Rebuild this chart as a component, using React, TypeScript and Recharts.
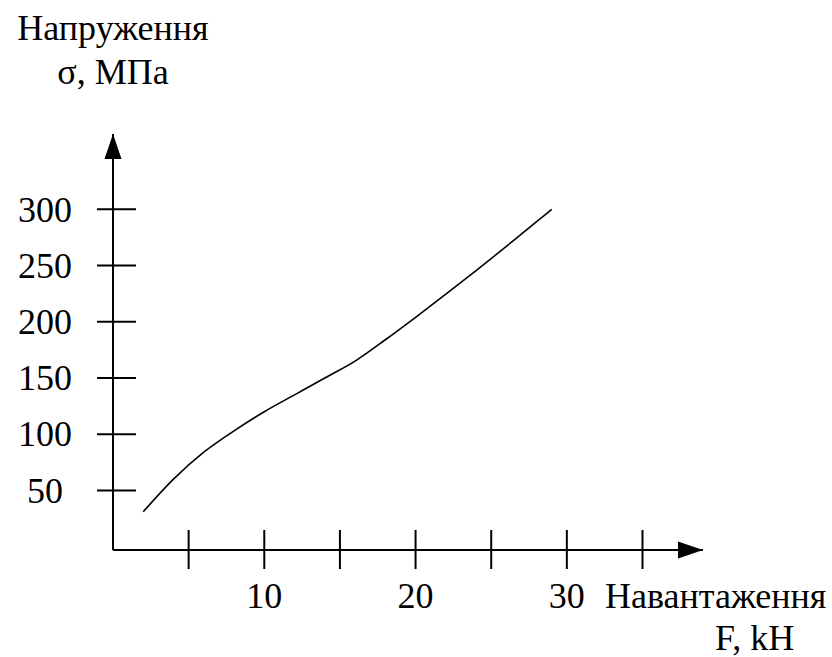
import React from 'react';
import {
  LineChart,
  Line,
  XAxis,
  YAxis,
  ReferenceDot,
  Label,
} from 'recharts';

// Load F (kN) vs stress σ (MPa)
const loadValues = [2, 4, 6, 8, 10, 12, 14, 16, 18, 20, 22, 24, 26, 28, 29];
const stressValues = [31, 60, 84, 103, 120, 135, 150, 165, 184, 204, 224.5, 245.5, 267, 289, 300];

const xTicks = [5, 10, 15, 20, 25, 30, 35];
const xTickLabels = ['', '10', '', '20', '', '30', ''];
const yTicks = [50, 100, 150, 200, 250, 300];
const yTickLabels = ['50', '100', '150', '200', '250', '300'];

const yTitle = ['Напруження', 'σ, МПа'];
const xTitle = ['Навантаження', 'F, kH'];

const X_DOMAIN: [number, number] = [0, 39];
const Y_DOMAIN: [number, number] = [-3, 367];

const FONT = '"Liberation Serif", "Times New Roman", serif';
const INK = '#000';

const data = loadValues.map((f, i) => ({ f, s: stressValues[i] }));

function XTick(props: any) {
  const { x, y, payload } = props;
  const idx = xTicks.indexOf(payload.value);
  const label = idx >= 0 ? xTickLabels[idx] : '';
  return (
    <g>
      <line x1={x} x2={x} y1={y - 20} y2={y + 19} stroke={INK} strokeWidth={2} />
      {label && (
        <text x={x} y={y + 58} textAnchor="middle" fontFamily={FONT} fontSize={36} fill={INK}>
          {label}
        </text>
      )}
    </g>
  );
}

function YTick(props: any) {
  const { x, y, payload } = props;
  const idx = yTicks.indexOf(payload.value);
  const label = idx >= 0 ? yTickLabels[idx] : '';
  return (
    <g>
      <line x1={x - 16} x2={x + 23} y1={y} y2={y} stroke={INK} strokeWidth={2} />
      <text
        x={x - 68}
        y={y}
        dy="0.34em"
        textAnchor="middle"
        fontFamily={FONT}
        fontSize={36}
        fill={INK}
      >
        {label}
      </text>
    </g>
  );
}

function ArrowUp(props: any) {
  const { cx, cy } = props;
  return <polygon points={`${cx},${cy} ${cx - 8.5},${cy + 25} ${cx + 8.5},${cy + 25}`} fill={INK} />;
}

function ArrowRight(props: any) {
  const { cx, cy } = props;
  return <polygon points={`${cx},${cy} ${cx - 25},${cy - 8.5} ${cx - 25},${cy + 8.5}`} fill={INK} />;
}

function YTitle(props: any) {
  const vb = props.viewBox;
  const axisX = vb.x + vb.width;
  return (
    <g fontFamily={FONT} fontSize={36} fill={INK}>
      <text x={axisX} y={vb.y - 94} textAnchor="middle">{yTitle[0]}</text>
      <text x={axisX} y={vb.y - 50} textAnchor="middle">{yTitle[1]}</text>
    </g>
  );
}

function XTitle(props: any) {
  const vb = props.viewBox;
  const right = vb.x + vb.width;
  return (
    <g fontFamily={FONT} fontSize={36} fill={INK}>
      <text x={right - 98} y={vb.y + 58}>{xTitle[0]}</text>
      <text x={right + 12} y={vb.y + 100}>{xTitle[1]}</text>
    </g>
  );
}

export default function App() {
  return (
    <div style={{ position: 'absolute', left: 0, top: 0, width: 832, height: 657, background: '#fff' }}>
      <LineChart
        width={832}
        height={657}
        data={data}
        margin={{ top: 134, right: 129, bottom: 0, left: 0 }}
      >
        <XAxis
          dataKey="f"
          type="number"
          domain={X_DOMAIN}
          ticks={xTicks}
          allowDataOverflow
          height={107}
          tickSize={0}
          tickMargin={0}
          tickLine={false}
          axisLine={{ stroke: INK, strokeWidth: 2 }}
          tick={<XTick />}
          interval={0}
        >
          <Label content={<XTitle />} />
        </XAxis>
        <YAxis
          type="number"
          domain={Y_DOMAIN}
          ticks={yTicks}
          allowDataOverflow
          width={113}
          tickSize={0}
          tickMargin={0}
          tickLine={false}
          axisLine={{ stroke: INK, strokeWidth: 2 }}
          tick={<YTick />}
          interval={0}
        >
          <Label content={<YTitle />} />
        </YAxis>
        <ReferenceDot x={X_DOMAIN[1]} y={Y_DOMAIN[0]} r={0} shape={<ArrowRight />} />
        <ReferenceDot x={X_DOMAIN[0]} y={Y_DOMAIN[1]} r={0} shape={<ArrowUp />} />
        <Line
          type="monotone"
          dataKey="s"
          stroke={INK}
          strokeWidth={1.6}
          dot={false}
          activeDot={false}
          isAnimationActive={false}
        />
      </LineChart>
    </div>
  );
}
